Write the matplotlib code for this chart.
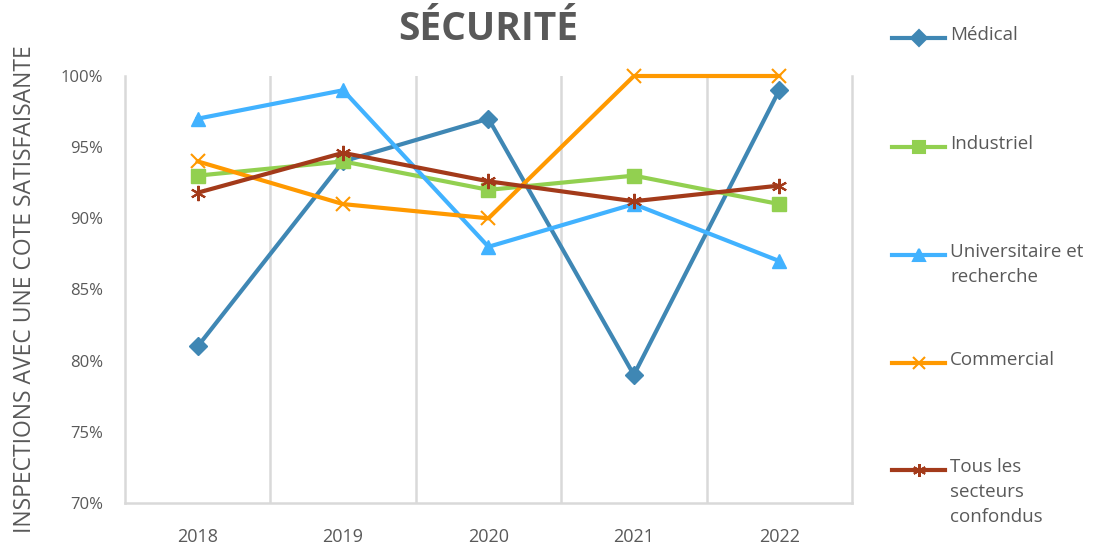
import matplotlib.pyplot as plt
from matplotlib.lines import Line2D
from matplotlib.ticker import FuncFormatter

years = ["2018", "2019", "2020", "2021", "2022"]

medical = [81, 94, 97, 79, 99]
industriel = [93, 94, 92, 93, 91]
universitaire = [97, 99, 88, 91, 87]
commercial = [94, 91, 90, 100, 100]
tous = [91.8, 94.6, 92.6, 91.2, 92.3]

labels = ["Médical", "Industriel", "Universitaire et\nrecherche",
          "Commercial", "Tous les\nsecteurs\nconfondus"]
colors = ["#3F87B4", "#92D050", "#41B2FF", "#FF9900", "#A33A1A"]
markers = ["D", "s", "^", "x", (6, 2, 0)]
msizes = [9, 10, 10, 10, 11]

plt.rcParams['font.family'] = ['Open Sans', 'DejaVu Sans']
gray = "#595959"
grid_c = "#D9D9D9"

fig = plt.figure(figsize=(11.06, 5.44), dpi=100)
ax = fig.add_axes([0.1130, 0.0754, 0.6573, 0.7849])

x = list(range(len(years)))
series = [medical, industriel, universitaire, commercial, tous]
for vals, lab, c, m, ms in zip(series, labels, colors, markers, msizes):
    ax.plot(x, vals, color=c, lw=3, marker=m, markersize=ms,
            markeredgewidth=1.5 if m in ("x", (6, 2, 0)) else 1,
            markeredgecolor=c, label=lab, clip_on=False, zorder=3)

ax.set_xlim(-0.5, 4.5)
ax.set_ylim(70, 100)
ax.set_yticks(range(70, 101, 5))
ax.yaxis.set_major_formatter(FuncFormatter(lambda v, p: f"{v:.0f}%"))
ax.set_xticks(x)
ax.set_xticklabels(years)
ax.set_xticks([0.5, 1.5, 2.5, 3.5], minor=True)
ax.grid(True, which="minor", axis="x", color=grid_c, lw=1.8)
ax.tick_params(which="both", length=0)
ax.tick_params(axis="y", labelsize=12, labelcolor=gray, pad=16)
ax.tick_params(axis="x", labelsize=13, labelcolor=gray, pad=18)

for s in ("left", "right", "bottom"):
    ax.spines[s].set_color(grid_c)
    ax.spines[s].set_linewidth(1.8)
ax.spines["top"].set_visible(False)

ax.set_ylabel("INSPECTIONS AVEC UNE COTE SATISFAISANTE", fontsize=16.5,
              color=gray)
ax.yaxis.set_label_coords(-0.121, 0.5)

fig.text(0.4415, 0.945, "SÉCURITÉ", ha="center", va="center",
         fontsize=28, fontweight="bold", color=gray)

# legend entries, evenly spaced like the original
leg_y = [38, 147, 255, 363, 470]
for ypix, lab, c, m, ms in zip(leg_y, labels, colors, markers, msizes):
    yf = 1 - ypix / 544
    fig.add_artist(Line2D([892 / 1106, 945 / 1106], [yf, yf],
                          transform=fig.transFigure, color=c, lw=3))
    fig.add_artist(Line2D([918.5 / 1106], [yf], transform=fig.transFigure,
                          color=c, marker=m, markersize=ms * 0.85,
                          markeredgewidth=1.5, markeredgecolor=c))
    fig.text(950 / 1106, yf + 12 / 544, lab, ha="left", va="top",
             fontsize=13.5, color=gray, linespacing=1.5)

fig.savefig("out.png", dpi=100)
